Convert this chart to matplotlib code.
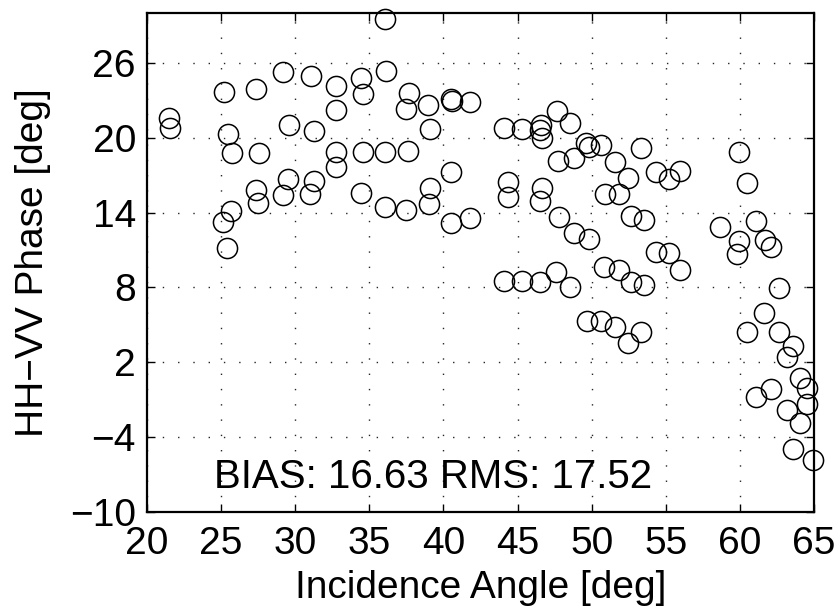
import numpy as np
import matplotlib
matplotlib.use("Agg")
import matplotlib.pyplot as plt

plt.rcParams['font.family'] = ['Liberation Sans', 'DejaVu Sans']

# incidence angle [deg] and HH-VV phase [deg]
incidence = [
    21.46, 21.53, 25.19, 25.46, 25.71, 25.13, 25.67, 25.40,
    27.35, 27.56, 27.33, 27.47, 29.17, 29.56, 29.51, 29.20,
    31.04, 31.29, 31.27, 31.02, 32.77, 32.73, 32.75, 32.73,
    34.44, 34.55, 34.55, 34.46, 36.06, 36.13, 36.06, 36.06,
    37.68, 37.50, 38.98, 39.12, 37.63, 37.50, 39.10, 39.00,
    40.51, 40.56, 41.79, 40.53, 40.49, 41.79,
    44.11, 45.28, 46.56, 46.51, 46.65, 47.64, 48.56,
    44.33, 44.33, 46.63, 46.51, 47.75, 48.83,
    49.60, 49.85, 50.65, 47.78, 48.81, 49.84,
    53.35, 51.56, 52.46, 50.88, 51.83, 54.34, 55.20, 55.94,
    52.68, 53.51, 59.94, 60.50, 58.68, 61.09, 59.92, 59.80,
    61.70, 62.12, 54.34, 55.20,
    44.09, 45.28, 46.54, 47.62, 48.54, 50.85, 51.82, 52.66,
    53.52, 55.95, 62.66,
    49.66, 50.61, 51.57, 52.47, 53.31, 61.60, 60.50, 62.65,
    63.60, 63.16, 64.09, 64.52, 64.52, 62.10, 61.09, 63.15,
    64.03, 63.60, 64.91,
]
phase = [
    21.61, 20.76, 23.69, 20.27, 18.75, 13.27, 14.10, 11.14,
    23.91, 18.81, 15.79, 14.80, 25.27, 20.99, 16.69, 15.41,
    24.95, 20.52, 16.53, 15.47, 24.15, 22.23, 18.83, 17.68,
    24.82, 23.51, 18.89, 15.55, 29.49, 25.32, 18.89, 14.48,
    23.56, 22.31, 22.63, 20.68, 18.97, 14.21, 16.00, 14.66,
    23.11, 22.97, 22.84, 17.26, 13.14, 13.54,
    20.78, 20.73, 21.02, 20.62, 19.95, 22.17, 21.16,
    16.48, 15.23, 16.00, 14.93, 18.14, 18.35,
    19.55, 19.25, 19.42, 13.68, 12.39, 11.86,
    19.15, 18.03, 16.80, 15.52, 15.52, 17.26, 16.72, 17.36,
    13.76, 13.41, 18.83, 16.40, 12.87, 13.33, 11.73, 10.65,
    11.81, 11.27, 10.88, 10.76,
    8.50, 8.50, 8.46, 9.27, 8.06, 9.60, 9.42, 8.46,
    8.18, 9.36, 7.93,
    5.34, 5.34, 4.80, 3.52, 4.40, 5.93, 4.39, 4.40,
    3.33, 2.40, 0.78, -0.05, -1.37, -0.17, -0.82, -1.82,
    -2.84, -4.97, -5.85,
]
xticks = [20, 25, 30, 35, 40, 45, 50, 55, 60, 65]
yticks = [-10, -4, 2, 8, 14, 20, 26]
stats_text = 'BIAS: 16.63 RMS: 17.52'

fig = plt.figure(figsize=(8.4, 6.15), dpi=100)
ax = fig.add_axes([0.175, 0.1675, 0.794, 0.8114])

ax.plot(incidence, phase, 'o', ms=14.5, mfc='none', mec='k', mew=1.1,
        linestyle='none', clip_on=False, zorder=3)

ax.set_xlim(20, 65)
ax.set_ylim(-10, 30)
ax.set_xticks(xticks)
ax.set_yticks(yticks)
ax.set_yticklabels([str(v).replace('-', '\u2212') for v in yticks])

# matlab style dotted grid
ax.grid(True, color='0.15', linestyle=(0, (1, 10)), linewidth=1)
ax.tick_params(direction='in', length=6, width=1, top=True, right=True,
               labelsize=28)
ax.tick_params(axis='x', pad=10)
ax.tick_params(axis='y', pad=8)
for sp in ax.spines.values():
    sp.set_linewidth(1.6)

ax.set_xlabel('Incidence Angle [deg]', fontsize=28)
ax.set_ylabel('HH\u2212VV Phase [deg]', fontsize=28)
ax.xaxis.set_label_coords(0.5, -0.116)
ax.yaxis.set_label_coords(-0.144, 0.5)

ax.text(24.55, -8.08, stats_text, fontsize=29, va='baseline', ha='left')

fig.savefig('out.png', dpi=100)
